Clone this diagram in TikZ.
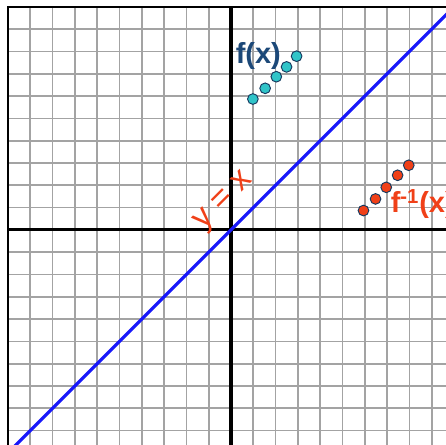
\documentclass[tikz,border=0pt]{standalone}
\usepackage{fontspec}
\setmainfont{Liberation Sans}
\usetikzlibrary{positioning}
\definecolor{fxblue}{RGB}{28,72,120}
\definecolor{fxteal}{RGB}{48,196,200}
\definecolor{invred}{RGB}{240,64,24}
\definecolor{lineblue}{RGB}{24,24,250}

\begin{document}
\begin{tikzpicture}[x=0.5cm,y=0.5cm,
    gridline/.style={draw=black!36,line width=1.1pt},
    axis/.style={draw=black,line width=2pt},
    dot/.style={circle,draw=fxblue!80!black,line width=0.6pt,minimum size=2.4mm,inner sep=0pt},
    fdot/.style={dot,fill=fxteal},
    gdot/.style={dot,fill=invred},
    lbl/.style={inner sep=0pt,font=\bfseries\fontsize{18.5}{20}\selectfont},
]
\useasboundingbox (-10.36,-9.64) rectangle (9.64,10.31);
\draw[gridline,step=1] (-10,-10) grid (10,10);
\draw[black,line width=0.8pt] (-10,-10) -- (-10,10) -- (10,10);
\coordinate (xl) at (-10,0);
\coordinate (xr) at (10,0);
\coordinate (yb) at (0,-10);
\coordinate (yt) at (0,10);
\draw[axis] (xl) -- (xr);
\draw[axis] (yb) -- (yt);
\coordinate (dl) at (-10,-10);
\coordinate (dr) at (10,10);
\draw[lineblue,line width=2pt] (dl) -- (dr);
\foreach \px/\py [count=\i] in {0.98/5.87,1.53/6.35,2.03/6.87,2.49/7.31,2.94/7.79}
  \node[fdot] (f\i) at (\px,\py) {};
\foreach \px/\py [count=\i] in {5.94/0.87,6.48/1.39,6.96/1.91,7.47/2.45,7.97/2.9}
  \node[gdot] (g\i) at (\px,\py) {};
\node[lbl,text=fxblue,anchor=base west] (flab) at (0.2,7.47) {f(x)};
\node[lbl,text=invred,anchor=base west] (glab) at (7.15,0.76) {f\textsuperscript{-1}(x)};
\node[font=\fontsize{21}{24}\selectfont,text=invred,rotate=45,inner sep=0pt] (ylab) at (-0.3,1.25) {y = x};
\end{tikzpicture}
\end{document}
